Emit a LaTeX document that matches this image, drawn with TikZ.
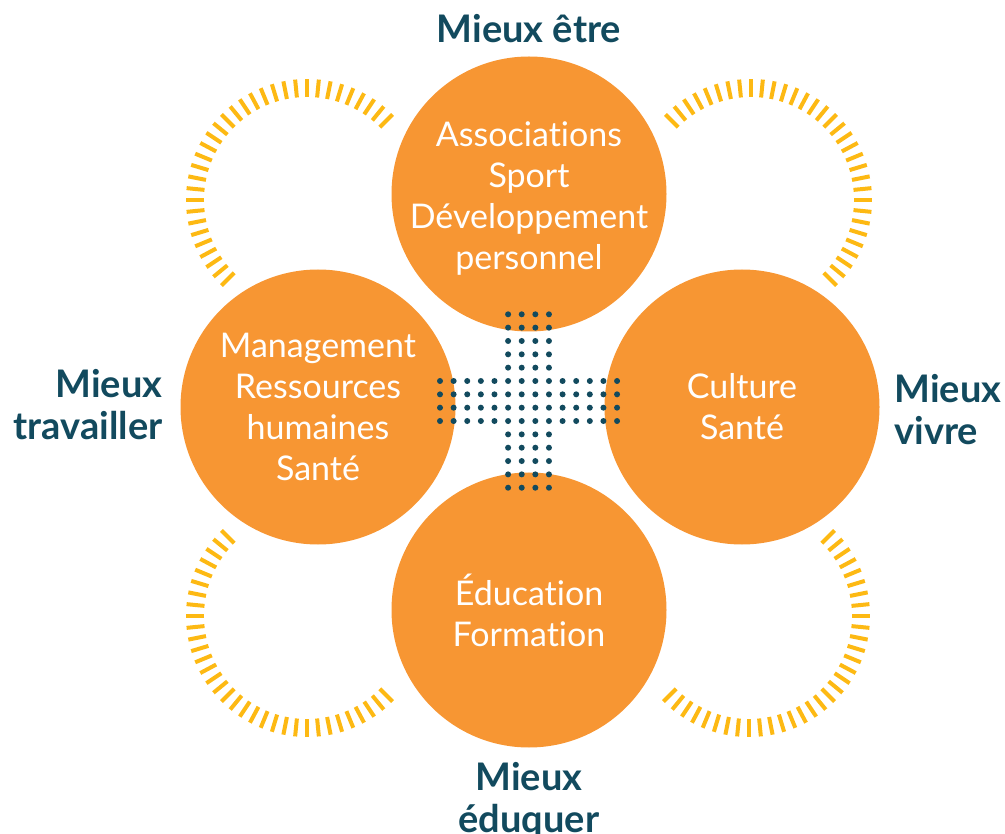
\documentclass[tikz,border=0pt]{standalone}
\usepackage{fontspec}
\setmainfont{Lato}[Ligatures=NoCommon]
\definecolor{circorange}{RGB}{247,150,51}
\definecolor{tickyellow}{RGB}{253,185,19}
\definecolor{darkteal}{RGB}{18,74,94}
\tikzset{
  bigcircle/.style={circle, fill=circorange, minimum size=275pt, inner sep=0pt},
  circtext/.style={text=white, align=center, font=\fontsize{34}{41}\selectfont},
  labeltext/.style={text=darkteal, font=\fontsize{38}{42}\selectfont\bfseries},
  tickline/.style={draw=tickyellow, line width=4pt},
  griddot/.style={fill=darkteal}
}
\begin{document}
\begin{tikzpicture}[x=1pt,y=-1pt]
\useasboundingbox (0,0) rectangle (1005,834);
% tick arcs
\foreach \cx/\cy/\a in {307/200/45, 751/200/-45, 307/616/135, 749/616/225}{
  \foreach \k in {0,...,32}{
    \pgfmathsetmacro{\ang}{\a+5.625*\k}
    \draw[tickline] ({\cx+103*cos(\ang)},{\cy-103*sin(\ang)}) -- ({\cx+121*cos(\ang)},{\cy-121*sin(\ang)});
  }
}
% circles
\node[bigcircle] (top) at (529,194) {};
\node[bigcircle] (left) at (318,407) {};
\node[bigcircle] (right) at (742,407) {};
\node[bigcircle] (bottom) at (529,610) {};
% dots
\foreach \i in {0,...,13}{
  \foreach \j in {5,...,8}{
    \fill[griddot] ({440+13.62*\i},{314.3+13.34*\j}) circle (3pt);
  }
}
\foreach \i in {5,...,8}{
  \foreach \j in {0,1,2,3,4,9,10,11,12,13}{
    \fill[griddot] ({440+13.62*\i},{314.3+13.34*\j}) circle (3pt);
  }
}
% circle texts
\node[circtext] (toptext) at (529,199) {Associations\\Sport\\Développement\\personnel};
\node[circtext] (lefttext) at (318,407) {Management\\Ressources\\humaines\\Santé};
\node[circtext] (righttext) at (742,407) {Culture\\Santé};
\node[circtext] (bottomtext) at (529,610) {Éducation\\Formation};
% labels
\node[labeltext, anchor=base] (ltop) at (529,43) {Mieux être};
\node[labeltext, align=right, anchor=east] (lleft) at (166,405) {Mieux\\travailler};
\node[labeltext, align=left, anchor=west] (lright) at (891,410) {Mieux\\vivre};
\node[labeltext, align=center] (lbottom) at (529,801) {Mieux\\éduquer};
\end{tikzpicture}
\end{document}
